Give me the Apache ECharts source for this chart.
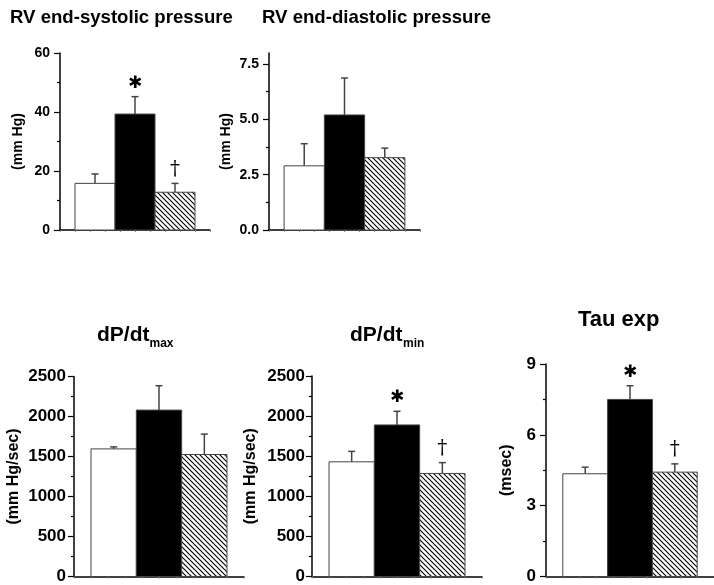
<!DOCTYPE html>
<html>
<head>
<meta charset="utf-8">
<script src="https://cdn.jsdelivr.net/npm/echarts@6/dist/echarts.min.js"></script>
<style>
html,body{margin:0;padding:0;background:#fff;}
#chart{width:714px;height:585px;}
</style>
</head>
<body>
<div id="chart"></div>
<script>
// ---- data ----
const groups = ['Group 1', 'Group 2', 'Group 3'];

const espMean = [15.8, 39.3, 12.8];
const espErr = [3.2, 5.9, 3.0];
const espMarks = ['', '*', '†'];
const espTicks = [0, 20, 40, 60];
const espMinor = [10, 30, 50];

const edpMean = [2.9, 5.2, 3.27];
const edpErr = [1.0, 1.67, 0.43];
const edpMarks = ['', '', ''];
const edpTicks = [0, 2.5, 5.0, 7.5];
const edpMinor = [1.25, 3.75, 6.25];

const dpMaxMean = [1595, 2080, 1525];
const dpMaxErr = [25, 305, 255];
const dpMaxMarks = ['', '', ''];

const dpMinMean = [1430, 1890, 1285];
const dpMinErr = [130, 170, 135];
const dpMinMarks = ['', '*', '†'];

const dpTicks = [0, 500, 1000, 1500, 2000, 2500];
const dpMinor = [250, 750, 1250, 1750, 2250];

const tauMean = [4.35, 7.5, 4.42];
const tauErr = [0.28, 0.58, 0.35];
const tauMarks = ['', '*', '†'];
const tauTicks = [0, 3, 6, 9];
const tauMinor = [1.5, 4.5, 7.5];

// ---- styling ----
const FONT = '"Liberation Sans", Arial, Helvetica, sans-serif';
const GAP = 0.375; // side gap in bar widths

function makeHatch() {
  const c = document.createElement('canvas');
  c.width = 5; c.height = 5;
  const g = c.getContext('2d');
  g.fillStyle = '#fff'; g.fillRect(0, 0, 5, 5);
  g.strokeStyle = '#000'; g.lineWidth = 1.1;
  g.beginPath();
  g.moveTo(-1, -1); g.lineTo(6, 6);
  g.moveTo(-1, 4); g.lineTo(1, 6);
  g.moveTo(4, -1); g.lineTo(6, 1);
  g.stroke();
  return c;
}
const hatch = { image: makeHatch(), repeat: 'repeat' };
const fills = ['#ffffff', '#000000', hatch];

const panels = [
  { mean: espMean, err: espErr, marks: espMarks, ticks: espTicks, minor: espMinor, max: 60,
    name: '(mm Hg)', grid: { left: 60, top: 53, width: 150, height: 177 }, nameGap: 35, fs: 14, nfs: 14, lm: 10, dec: 0 },
  { mean: edpMean, err: edpErr, marks: edpMarks, ticks: edpTicks, minor: edpMinor, max: 8,
    name: '(mm Hg)', grid: { left: 269, top: 53, width: 151, height: 177 }, nameGap: 36, fs: 14, nfs: 14, lm: 10, dec: 1 },
  { mean: dpMaxMean, err: dpMaxErr, marks: dpMaxMarks, ticks: dpTicks, minor: dpMinor, max: 2500,
    name: '(mm Hg/sec)', grid: { left: 74, top: 376.5, width: 170, height: 202 }, nameGap: 52, fs: 17, nfs: 16, lm: 8, dec: 0 },
  { mean: dpMinMean, err: dpMinErr, marks: dpMinMarks, ticks: dpTicks, minor: dpMinor, max: 2500,
    name: '(mm Hg/sec)', grid: { left: 312, top: 376, width: 170, height: 202.5 }, nameGap: 53, fs: 17, nfs: 16, lm: 7, dec: 0 },
  { mean: tauMean, err: tauErr, marks: tauMarks, ticks: tauTicks, minor: tauMinor, max: 9,
    name: '(msec)', grid: { left: 546, top: 364, width: 175, height: 214.5 }, nameGap: 31, fs: 17, nfs: 16, lm: 10, dec: 0 }
];

const grid = [], xAxis = [], yAxis = [], series = [];

panels.forEach((p, k) => {
  grid.push(Object.assign({ containLabel: false }, p.grid));
  const xmin = -0.5 - GAP, xmax = groups.length - 0.5 + GAP;
  const xt = [];
  for (let i = 0; i <= 10; i++) xt.push(xmin + (xmax - xmin) * i / 10);
  xAxis.push({
    type: 'value', gridIndex: k, min: xmin, max: xmax,
    axisLine: { show: true, onZero: false, lineStyle: { color: '#000', width: 1.5 } },
    axisTick: { show: true, customValues: xt, length: 2, inside: false, lineStyle: { color: '#888', width: 1 } },
    axisLabel: { show: false },
    splitLine: { show: false }
  });
  // major axis
  yAxis.push({
    type: 'value', gridIndex: k, min: 0, max: p.max,
    name: p.name, nameLocation: 'middle', nameGap: p.nameGap,
    nameTextStyle: { fontFamily: FONT, fontWeight: 'bold', fontSize: p.nfs, color: '#000' },
    axisLine: { show: true, onZero: false, lineStyle: { color: '#000', width: 1.5 } },
    axisTick: { show: true, customValues: p.ticks, length: 6, lineStyle: { color: '#000', width: 1.2 } },
    axisLabel: { show: true, customValues: p.ticks, margin: p.lm, fontFamily: FONT, fontWeight: 'bold', fontSize: p.fs, color: '#000',
      formatter: v => Number(v).toFixed(p.dec) },
    splitLine: { show: false }
  });
  // minor tick axis
  yAxis.push({
    type: 'value', gridIndex: k, min: 0, max: p.max, position: 'left',
    axisLine: { show: false, onZero: false },
    axisTick: { show: true, customValues: p.minor, length: 3, lineStyle: { color: '#000', width: 1.2 } },
    axisLabel: { show: false },
    splitLine: { show: false }
  });
  const data = p.mean.map((m, i) => [i, m, p.err[i]]);
  series.push({
    type: 'custom', xAxisIndex: k, yAxisIndex: 2 * k, clip: false,
    data: data,
    renderItem: function (params, api) {
      const i = params.dataIndex;
      const x = api.value(0), m = api.value(1), e = api.value(2);
      const tl = api.coord([x - 0.5, m]);
      const br = api.coord([x + 0.5, 0]);
      const cx = api.coord([x, 0])[0];
      const top = api.coord([x, m + e])[1];
      const children = [
        { type: 'line', shape: { x1: cx, y1: tl[1], x2: cx, y2: top }, style: { stroke: '#444', lineWidth: 1.5 } },
        { type: 'line', shape: { x1: cx - 3.5, y1: top, x2: cx + 3.5, y2: top }, style: { stroke: '#444', lineWidth: 1.5 } },
        { type: 'rect', shape: { x: tl[0], y: tl[1], width: br[0] - tl[0], height: br[1] - tl[1] },
          style: { fill: fills[i], stroke: '#444', lineWidth: 1 } }
      ];
      const mk = p.marks[i];
      if (mk) {
        const isStar = mk === '*';
        children.push({
          type: 'text', x: cx, y: top - (isStar ? 5 : 4),
          style: { text: isStar ? '✱' : '†', fill: '#000', align: 'center', verticalAlign: 'bottom',
            font: isStar ? 'bold 17px "DejaVu Sans", sans-serif' : '20px "DejaVu Serif", serif' }
        });
      }
      return { type: 'group', children: children };
    }
  });
});

const T = (text, x, y, size) => ({
  type: 'text', left: x, top: y,
  style: { text: text, fill: '#000', font: 'bold ' + size + 'px ' + FONT }
});

const option = {
  animation: false,
  backgroundColor: '#fff',
  grid, xAxis, yAxis, series,
  graphic: [
    T('RV end-systolic pressure', 10, 8, 18.6),
    T('RV end-diastolic pressure', 262, 8, 18.6),
    T('dP/dt', 97, 325, 21),
    T('max', 149.5, 338, 12),
    T('dP/dt', 350, 325, 21),
    T('min', 403, 338, 12),
    T('Tau exp', 578, 309, 22)
  ]
};

const chart = echarts.init(document.getElementById('chart'), null, { renderer: 'canvas' });
chart.setOption(option);
</script>
</body>
</html>
